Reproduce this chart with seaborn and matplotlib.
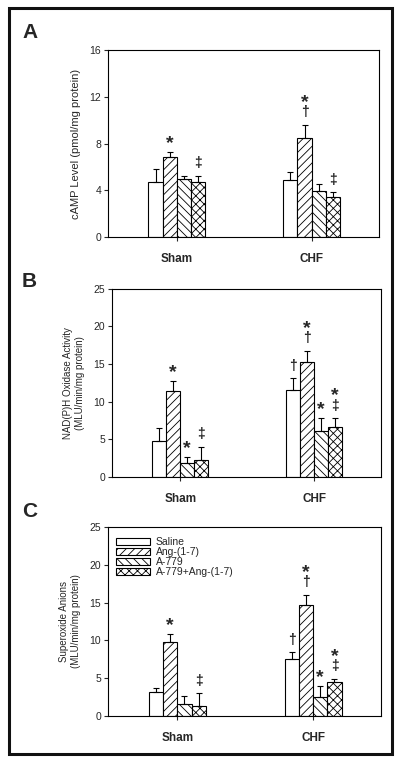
import numpy as np
import pandas as pd
import matplotlib
matplotlib.use("Agg")
import matplotlib.pyplot as plt
from matplotlib.patches import Rectangle
import seaborn as sns

groups = ["Sham", "CHF"]
treatments = ["Saline", "Ang-(1-7)", "A-779", "A-779+Ang-(1-7)"]
hatches = ["", "////", "\\\\\\\\", "xxxx"]

# values per treatment: [Sham, CHF]
camp_mean = {"Saline": [4.7, 4.85], "Ang-(1-7)": [6.85, 8.5],
             "A-779": [4.95, 3.9], "A-779+Ang-(1-7)": [4.75, 3.45]}
camp_err = {"Saline": [1.1, 0.75], "Ang-(1-7)": [0.45, 1.1],
            "A-779": [0.3, 0.6], "A-779+Ang-(1-7)": [0.5, 0.4]}
nadph_mean = {"Saline": [4.75, 11.5], "Ang-(1-7)": [11.4, 15.3],
              "A-779": [1.8, 6.1], "A-779+Ang-(1-7)": [2.3, 6.7]}
nadph_err = {"Saline": [1.7, 1.6], "Ang-(1-7)": [1.35, 1.5],
             "A-779": [0.9, 1.8], "A-779+Ang-(1-7)": [1.7, 1.1]}
sox_mean = {"Saline": [3.2, 7.55], "Ang-(1-7)": [9.8, 14.65],
            "A-779": [1.55, 2.55], "A-779+Ang-(1-7)": [1.3, 4.5]}
sox_err = {"Saline": [0.5, 0.9], "Ang-(1-7)": [1.0, 1.4],
           "A-779": [1.15, 1.4], "A-779+Ang-(1-7)": [1.7, 0.4]}

# significance marks, bottom to top
camp_sig = {"Saline": [[], []], "Ang-(1-7)": [["*"], ["†", "*"]],
            "A-779": [[], []], "A-779+Ang-(1-7)": [["‡"], ["‡"]]}
nadph_sig = {"Saline": [[], ["†"]], "Ang-(1-7)": [["*"], ["†", "*"]],
             "A-779": [["*"], ["*"]], "A-779+Ang-(1-7)": [["‡"], ["‡", "*"]]}
sox_sig = {"Saline": [[], ["†"]], "Ang-(1-7)": [["*"], ["†", "*"]],
           "A-779": [[], ["*"]], "A-779+Ang-(1-7)": [["‡"], ["‡", "*"]]}

sns.set_style("white")
plt.rcParams["font.family"] = ["Liberation Sans", "DejaVu Sans"]
plt.rcParams["hatch.linewidth"] = 0.6

fig = plt.figure(figsize=(4.0, 7.62), dpi=100)


def panel(rect, mean, err, sig, ymax, ystep, ylabel, letter, letter_y, ylabel_fs, legend=False):
    ax = fig.add_axes(rect)
    df = pd.DataFrame([(g, t, mean[t][i]) for t in treatments for i, g in enumerate(groups)],
                      columns=["group", "treatment", "value"])
    sns.barplot(data=df, x="group", y="value", hue="treatment", hue_order=treatments,
                order=groups, palette=["white"] * 4, edgecolor="black", linewidth=0.8,
                width=0.42, gap=0, errorbar=None, legend=False, saturation=1, ax=ax)
    bar_sets = list(ax.containers)
    for cont, t, h in zip(bar_sets, treatments, hatches):
        for i, bar in enumerate(cont.patches):
            bar.set_hatch(h)
            xc = bar.get_x() + bar.get_width() / 2
            top = bar.get_height()
            ax.errorbar(xc, top, yerr=[[0], [err[t][i]]], color="black", lw=0.8,
                        capsize=2.2, capthick=0.8)
            for k, s in enumerate(sig[t][i]):
                big = s == "*"
                ax.annotate(s, (xc, top + err[t][i]), xytext=(0, 9 + 10 * k + (-3 if big else 0)),
                            textcoords="offset points", ha="center", va="center",
                            fontsize=14 if big else 10, fontweight="bold")
    ax.set_xlim(-0.51, 1.5)
    ax.set_ylim(0, ymax)
    ax.set_yticks(np.arange(0, ymax + 0.1, ystep))
    ax.set_xlabel("")
    ax.set_ylabel(ylabel, fontsize=ylabel_fs, labelpad=6)
    for sp in ax.spines.values():
        sp.set_visible(True)
        sp.set_color("black")
        sp.set_linewidth(0.8)
    ax.tick_params(axis="y", direction="out", length=3, width=0.8, labelsize=7.5, pad=2, left=True)
    ax.tick_params(axis="x", direction="out", length=3, width=0.8, labelsize=8.5, pad=8.5, bottom=True)
    for lab in ax.get_xticklabels():
        lab.set_fontweight("bold")
    fig.text(0.055, letter_y, letter, fontsize=15, fontweight="bold", ha="left", va="center")
    if legend:
        handles = [c.patches[0] for c in bar_sets]
        ax.legend(handles, treatments, loc="upper left", frameon=False, fontsize=7.5,
                  handlelength=3.2, handleheight=0.55, labelspacing=0.0,
                  handletextpad=0.6, borderaxespad=0.4, bbox_to_anchor=(0.0, 0.99))
    return ax


panel([0.27, 0.689, 0.6775, 0.245], camp_mean, camp_err, camp_sig, 16, 4,
      "cAMP Level (pmol/mg protein)", "A", 0.957, 8)
panel([0.28, 0.374, 0.6725, 0.247], nadph_mean, nadph_err, nadph_sig, 25, 5,
      "NAD(P)H Oxidase Activity\n(MLU/min/mg protein)", "B", 0.631, 7)
panel([0.27, 0.0604, 0.6825, 0.248], sox_mean, sox_err, sox_sig, 25, 5,
      "Superoxide Anions\n(MLU/min/mg protein)", "C", 0.329, 7, legend=True)

fig.add_artist(Rectangle((0.0225, 0.0105), 0.9575, 0.979, transform=fig.transFigure,
                         fill=False, edgecolor="#111111", linewidth=2.2))

fig.savefig("out.png", dpi=100)
